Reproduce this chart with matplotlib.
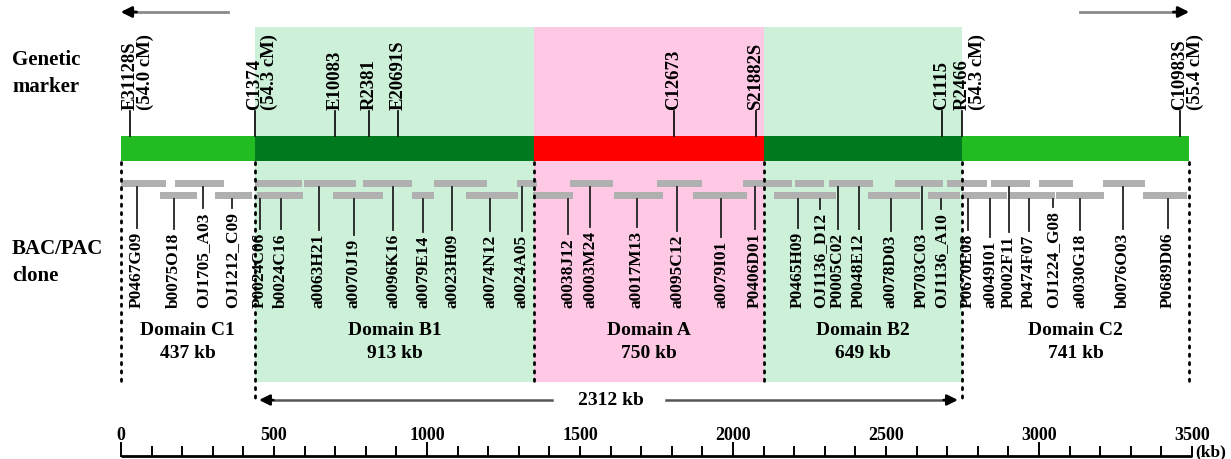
import matplotlib.pyplot as plt
from matplotlib.patches import Rectangle
import matplotlib.transforms as mtransforms

# domains (kb)
domain_names = ['Domain C1', 'Domain B1', 'Domain A', 'Domain B2', 'Domain C2']
domain_sizes = [437, 913, 750, 649, 741]
domain_bar_colors = ['#22bb22', '#007a1e', '#ff0000', '#007a1e', '#22bb22']
domain_shade = [None, '#cdf0d9', '#ffc9e5', '#cdf0d9', None]

# genetic markers (kb position, label, cM)
marker_pos = [29, 437, 699, 810, 905, 1807, 2075, 2683, 2749, 3461]
marker_names = ['E31128S', 'C1374', 'E10083', 'R2381', 'E20691S',
                'C12673', 'S21882S', 'C1115', 'R2466', 'C10983S']
marker_cm = ['(54.0 cM)', '(54.3 cM)', '', '', '', '', '', '', '(54.3 cM)', '(55.4 cM)']

# BAC/PAC clone contig, two staggered rows (start kb, end kb)
clones_row1 = [(0, 147), (176, 337), (438, 592), (598, 768), (791, 951), (1023, 1196),
               (1294, 1359), (1467, 1608), (1752, 1899), (2033, 2193), (2203, 2297),
               (2314, 2458), (2529, 2686), (2699, 2830), (2843, 2971), (3000, 3111),
               (3209, 3346)]
clones_row2 = [(127, 248), (307, 428), (444, 595), (693, 856), (951, 1023), (1127, 1297),
               (1346, 1477), (1611, 1771), (1869, 2046), (2134, 2337), (2441, 2611),
               (2637, 2742), (2748, 2895), (2905, 3052), (3056, 3212), (3340, 3484)]

clone_pos = [52, 173, 268, 363, 454, 523, 647, 761, 889, 987, 1082, 1206, 1310,
             1461, 1533, 1686, 1817, 1961, 2072, 2212, 2284, 2343, 2412, 2516, 2618,
             2680, 2768, 2840, 2902, 2967, 3046, 3134, 3275, 3422]
clone_names = ['P0467G09', 'b0075O18', 'OJ1705_A03', 'OJ1212_C09', 'P0024C06', 'b0024C16',
               'a0063H21', 'a0070J19', 'a0096K16', 'a0079E14', 'a0023H09', 'a0074N12',
               'a0024A05', 'a0038J12', 'a0003M24', 'a0017M13', 'a0095C12', 'a0079I01',
               'P0406D01', 'P0465H09', 'OJ1136_D12', 'P0005C02', 'P0048E12', 'a0078D03',
               'P0703C03', 'OJ1136_A10', 'P0670E08', 'a0049I01', 'P0002F11', 'P0474F07',
               'OJ1224_G08', 'a0030G18', 'b0076O03', 'P0689D06']

span_label = '2312 kb'
scale_max = 3500

plt.rcParams['font.family'] = ['Liberation Serif', 'DejaVu Serif']
plt.rcParams['font.weight'] = 'bold'

PX_PER_KB = 0.306
X0_PX = 121
fig = plt.figure(figsize=(12.31, 4.6), dpi=100)
ax = fig.add_axes([0, 0, 1, 1])
ax.set_xlim(-X0_PX / PX_PER_KB, (1231 - X0_PX) / PX_PER_KB)
ax.set_ylim(460, 0)
ax.axis('off')

bounds = [0]
for s in domain_sizes:
    bounds.append(bounds[-1] + s)

# background shading of the core domains
for i, c in enumerate(domain_shade):
    if c:
        ax.add_patch(Rectangle((bounds[i], 28), domain_sizes[i], 355, color=c, zorder=0, lw=0))

# chromosome bar
for i, c in enumerate(domain_bar_colors):
    ax.add_patch(Rectangle((bounds[i], 137), domain_sizes[i], 25, color=c, zorder=2, lw=0))

# dotted boundaries
for i, b in enumerate(bounds):
    bottom = 404 if i in (1, 4) else 385
    ax.plot([b, b], [163, bottom], color='black', lw=2, ls=(0, (0.8, 2.2)),
            dash_capstyle='round', zorder=3)

# top orientation arrows
ax.plot([350, 20], [13, 13], color='#8a8a8a', lw=2)
ax.annotate('', xy=(-10, 13), xytext=(60, 13),
            arrowprops=dict(arrowstyle='-|>', color='black', lw=2, mutation_scale=16))
ax.plot([3134, 3460], [13, 13], color='#8a8a8a', lw=2)
ax.annotate('', xy=(3500, 13), xytext=(3430, 13),
            arrowprops=dict(arrowstyle='-|>', color='black', lw=2, mutation_scale=16))

# genetic markers
cm_shift = mtransforms.offset_copy(ax.transData, fig=fig, x=15, y=0, units='dots')
for x, name, cm in zip(marker_pos, marker_names, marker_cm):
    ax.plot([x, x], [112, 137], color='black', lw=1.2, zorder=3)
    ax.text(x, 110, name, rotation=90, rotation_mode='anchor', ha='left', va='center',
            fontsize=13.5, fontweight='bold')
    if cm:
        ax.text(x, 110, cm, rotation=90, rotation_mode='anchor', ha='left', va='center',
                fontsize=13.5, fontweight='bold', transform=cm_shift)

# row titles on the left
left = mtransforms.blended_transform_factory(fig.transFigure, ax.transData)
for y, s in [(60, 'Genetic'), (87, 'marker'), (249, 'BAC/PAC'), (276, 'clone')]:
    ax.text(12 / 1231, y, s, fontsize=15, fontweight='bold', va='center', ha='left',
            transform=left)

# clone bars
ROW_Y = [181, 193]
for row, clones in enumerate([clones_row1, clones_row2]):
    for a, b in clones:
        ax.add_patch(Rectangle((a, ROW_Y[row]), b - a, 6.5, color='#b0b0b0', lw=0, zorder=2))

# clone labels and their leader lines
label_texts = []
for x, name in zip(clone_pos, clone_names):
    t = ax.text(x, 308, name, rotation=90, rotation_mode='anchor', ha='left', va='center',
                fontsize=12.5, fontweight='bold', zorder=4)
    label_texts.append(t)

fig.canvas.draw()
renderer = fig.canvas.get_renderer()
inv = ax.transData.inverted()
for x, t in zip(clone_pos, label_texts):
    bb = t.get_window_extent(renderer)
    top = inv.transform((bb.x0, bb.y1))[1]
    start = ROW_Y[0] + 6.5
    for a, b in clones_row2:
        if a <= x <= b:
            start = ROW_Y[1] + 6.5
    ax.plot([x, x], [start, top - 3], color='#222222', lw=1.3, zorder=3)

# domain labels
for i, name in enumerate(domain_names):
    cx = bounds[i] + domain_sizes[i] / 2
    ax.text(cx, 331, name, ha='center', va='center', fontsize=14, fontweight='bold')
    ax.text(cx, 354, f'{domain_sizes[i]} kb', ha='center', va='center', fontsize=14,
            fontweight='bold')

# 2312 kb span arrows
span_mid = 1600
ax.text(span_mid, 401, span_label, ha='center', va='center', fontsize=14, fontweight='bold')
ax.plot([bounds[1] + 60, 1407], [401, 401], color='#555555', lw=1.8)
ax.annotate('', xy=(bounds[1] + 5, 401), xytext=(bounds[1] + 70, 401),
            arrowprops=dict(arrowstyle='-|>', color='black', lw=1.8, mutation_scale=16))
ax.plot([1780, bounds[4] - 60], [401, 401], color='#555555', lw=1.8)
ax.annotate('', xy=(bounds[4] - 5, 401), xytext=(bounds[4] - 70, 401),
            arrowprops=dict(arrowstyle='-|>', color='black', lw=1.8, mutation_scale=16))

# kb scale
ax.plot([0, scale_max], [457, 457], color='black', lw=2, solid_capstyle='butt')
for k in range(0, scale_max + 1, 100):
    h = 13 if k % 1000 == 0 else 9
    ax.plot([k, k], [457, 457 - h], color='black', lw=1.4)
    if k % 500 == 0:
        ax.text(k, 436, str(k), ha='center', va='center', fontsize=13, fontweight='bold')
ax.text(scale_max + 10, 452, '(kb)', ha='left', va='center', fontsize=12.5, fontweight='bold')

fig.savefig('out.png', dpi=100)
